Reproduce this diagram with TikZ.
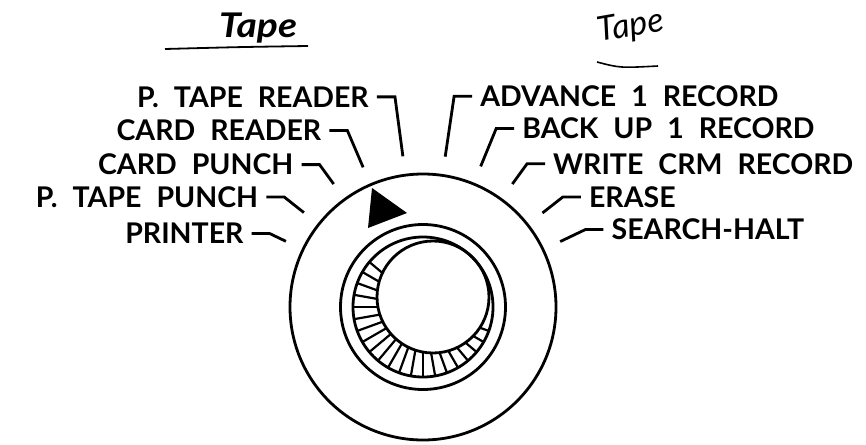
\documentclass[tikz,border=0pt]{standalone}
\usepackage{fontspec}
\setmainfont{Lato}
\usetikzlibrary{positioning, calc}

\newcommand\dialfont{\bfseries\fontsize{28.5}{30}\selectfont\spaceskip=15pt\relax}

\tikzset{
  dialtext/.style={font=\dialfont, inner xsep=8pt, inner ysep=0pt},
  handtext/.style={font=\itshape\fontsize{34}{34}\selectfont, inner sep=0pt},
  leader/.style={line width=2.8pt},
  ring/.style={line width=2.8pt},
  knurl/.style={line width=2.2pt},
}

\begin{document}
\begin{tikzpicture}[x=1pt, y=-1pt]
  \useasboundingbox (0,0) rectangle (866,444);

  % handwritten notes over the two halves
  \node[handtext, font=\bfseries\itshape\fontsize{34}{34}\selectfont, xscale=1.15] (tapeL) at (258,28) {Tape};
  \draw[line width=1.8pt] (165,49) .. controls (240,47) .. (308,46);
  \node[handtext, rotate=10] (tapeR) at (631,27) {Tape};
  \draw[line width=1.6pt] (597,62) .. controls (620,68) .. (658,66);

  % dial
  \coordinate (c) at (423,307);
  \coordinate (kt) at (433,297);
  \draw[ring] (c) circle (133);
  \draw[ring] (c) circle (82.5);
  \draw[ring] (c) circle (70);
  \draw[ring] (kt) circle (56);
  \foreach \a in {20,30,...,220} {
    \pgfmathsetmacro\ud{10*sin(\a)-10*cos(\a)}
    \pgfmathsetmacro\r{-\ud+sqrt(\ud*\ud+2936)}
    \draw[knurl] ($(c)+(\a:69)$) -- ($(c)+(\a:\r)$);
  }
  \fill (372,188) -- (407,213) -- (368,228) -- cycle;

  % settings on the left
  \foreach \ang/\len/\name/\txt in {205.6/18/prt/PRINTER, 218.4/25/ptp/P. TAPE PUNCH,
      234/24/cp/CARD PUNCH, 246.8/40/cr/CARD READER, 262.4/60/ptr/P. TAPE READER} {
    \pgfmathsetmacro\rb{152+\len}
    \coordinate (\name-tip) at ($(c)+(\ang:152)$);
    \coordinate (\name-bend) at ($(c)+(\ang:\rb)$);
    \node[dialtext, left=18pt of \name-bend] (\name) {\txt};
    \draw[leader] (\name.east) -- (\name-bend) -- (\name-tip);
  }

  % settings on the right
  \foreach \ang/\len/\name/\txt in {278.4/61/adv/ADVANCE 1 RECORD, 292.3/41/bk/BACK UP 1 RECORD,
      306/25/wr/WRITE CRM RECORD, 321.8/26/er/ERASE, 334.5/28/sh/SEARCH-HALT} {
    \pgfmathsetmacro\rb{152+\len}
    \coordinate (\name-tip) at ($(c)+(\ang:152)$);
    \coordinate (\name-bend) at ($(c)+(\ang:\rb)$);
    \node[dialtext, right=18pt of \name-bend] (\name) {\txt};
    \draw[leader] (\name.west) -- (\name-bend) -- (\name-tip);
  }
\end{tikzpicture}
\end{document}
